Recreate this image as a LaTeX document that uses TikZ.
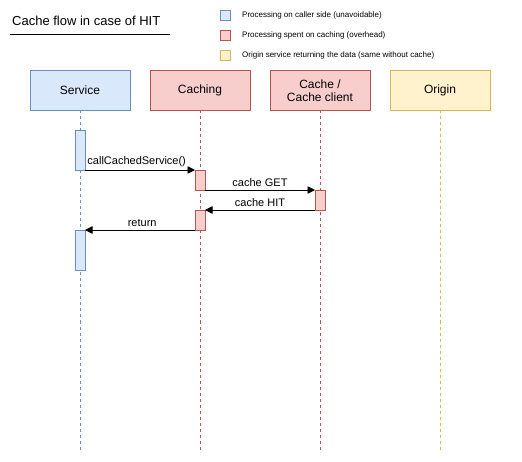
\documentclass[tikz,border=0pt]{standalone}
\usepackage{fontspec}
\setmainfont{Liberation Sans}
\usetikzlibrary{arrows.meta}
\definecolor{bfill}{HTML}{DAE8FC}\definecolor{bdraw}{HTML}{6C8EBF}
\definecolor{rfill}{HTML}{F8CECC}\definecolor{rdraw}{HTML}{B85450}
\definecolor{yfill}{HTML}{FFF2CC}\definecolor{ydraw}{HTML}{D6B656}
\begin{document}
\begin{tikzpicture}[x=1pt,y=-1pt,
  head/.style={draw, minimum width=100pt, minimum height=40pt, inner sep=0pt, outer sep=0pt, align=center, font=\fontsize{12}{13}\selectfont},
  act/.style={draw, minimum width=10pt, inner sep=0pt, outer sep=0pt, anchor=north},
  leg/.style={draw, minimum width=10pt, minimum height=10pt, inner sep=0pt},
  legtxt/.style={anchor=west, inner sep=0pt, font=\fontsize{8}{9}\selectfont},
  life/.style={dash pattern=on 3pt off 3pt, line width=0.6pt},
  msg/.style={-{Triangle[length=7.5pt,width=7.5pt]}, line width=0.9pt},
  lbl/.style={font=\fontsize{11}{12}\selectfont, inner sep=1pt, above=2pt}]
\useasboundingbox (0,0) rectangle (522,462);
% title
\node[anchor=west, inner sep=0pt, font=\fontsize{13}{14}\selectfont] (title) at (12,21) {Cache flow in case of HIT};
\coordinate (ul1) at (10,34); \coordinate (ul2) at (170,34);
\draw[line width=0.9pt] (ul1) -- (ul2);
% legend
\node[leg, fill=bfill, draw=bdraw] (l1) at (225.5,15.5) {};
\node[leg, fill=rfill, draw=rdraw] (l2) at (225.5,35.5) {};
\node[leg, fill=yfill, draw=ydraw] (l3) at (225.5,55.5) {};
\node[legtxt] (t1) at (242,15.5) {Processing on caller side (unavoidable)};
\node[legtxt] (t2) at (242,35.5) {Processing spent on caching (overhead)};
\node[legtxt] (t3) at (242,55.5) {Origin service returning the data (same without cache)};
% heads
\node[head, fill=bfill, draw=bdraw] (svc) at (80,90.5) {Service};
\node[head, fill=rfill, draw=rdraw] (cch) at (200,90.5) {Caching};
\node[head, fill=rfill, draw=rdraw] (cc) at (320,90.5) {Cache /\\Cache client};
\node[head, fill=yfill, draw=ydraw] (org) at (440,90.5) {Origin};
% lifeline ends
\coordinate (e1) at (80,450); \coordinate (e2) at (200,450);
\coordinate (e3) at (320,450); \coordinate (e4) at (440,450);
\draw[life, draw=bdraw] (svc.south) -- (e1);
\draw[life, draw=rdraw] (cch.south) -- (e2);
\draw[life, draw=rdraw] (cc.south) -- (e3);
\draw[life, draw=ydraw] (org.south) -- (e4);
% activations
\node[act, fill=bfill, draw=bdraw, minimum height=40pt] (a1) at (80,130) {};
\node[act, fill=rfill, draw=rdraw, minimum height=20pt] (a2) at (200,170) {};
\node[act, fill=rfill, draw=rdraw, minimum height=20pt] (a3) at (320,190) {};
\node[act, fill=rfill, draw=rdraw, minimum height=20pt] (a4) at (200,210) {};
\node[act, fill=bfill, draw=bdraw, minimum height=40pt] (a5) at (80,230) {};
% messages
\draw[msg] (a1.south east) -- node[lbl, pos=0.47] {callCachedService()} (a2.north west);
\draw[msg] (a2.south east) -- node[lbl] {cache GET} (a3.north west);
\draw[msg] (a3.south west) -- node[lbl] {cache HIT} (a4.north east);
\draw[msg] (a4.south west) -- node[lbl, pos=0.48] {return} (a5.north east);
\end{tikzpicture}
\end{document}
